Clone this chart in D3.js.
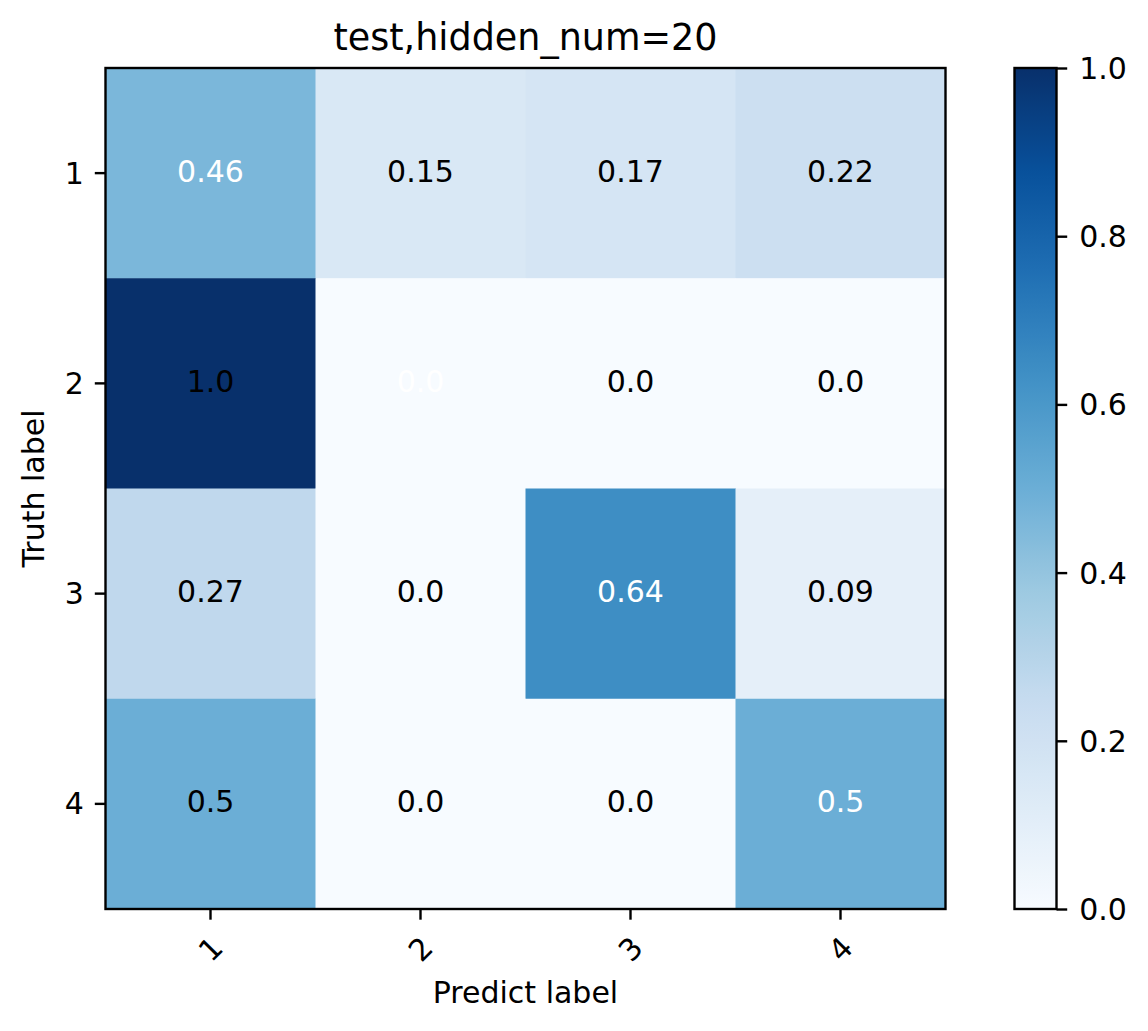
<!DOCTYPE html>
<html>
<head>
<meta charset="utf-8">
<script src="https://cdn.jsdelivr.net/npm/d3@7"></script>
<style>
  body { margin: 0; background: #fff; }
  svg { display: block; font-family: "DejaVu Sans", sans-serif; }
</style>
</head>
<body>
<div id="chart"></div>
<script>
// Confusion matrix data (rows = truth label, columns = predicted label)
const labels = ["1", "2", "3", "4"];
const matrix = [
  [0.46, 0.15, 0.17, 0.22],
  [1.0, 0.0, 0.0, 0.0],
  [0.27, 0.0, 0.64, 0.09],
  [0.5, 0.0, 0.0, 0.5]
];
const colorbarTicks = [0.0, 0.2, 0.4, 0.6, 0.8, 1.0];
const title = "test,hidden_num=20";

// matplotlib "Blues" colormap anchors
const bluesAnchors = ["#f7fbff", "#deebf7", "#c6dbef", "#9ecae1", "#6baed6",
                      "#4292c6", "#2171b5", "#08519c", "#08306b"];

const width = 1148, height = 1031;
const margin = { top: 68, left: 105.5 };
const plotW = 840, plotH = 841;
const lw = 2.4;       // axes line width
const tickLen = 10.7;
const fontSize = 30;

const color = d3.scaleLinear()
    .domain(d3.range(bluesAnchors.length).map(i => i / (bluesAnchors.length - 1)))
    .range(bluesAnchors)
    .interpolate(d3.interpolateRgb)
    .clamp(true);

function fmt(v) {
    // mimic python str() of rounded float
    return Number.isInteger(Math.round(v * 100) / 10) ? v.toFixed(1) : v.toFixed(2);
}

const svg = d3.select("#chart").append("svg")
    .attr("width", width)
    .attr("height", height);

const g = svg.append("g")
    .attr("transform", "translate(" + margin.left + "," + margin.top + ")");

const x = d3.scaleBand().domain(labels).range([0, plotW]);
const y = d3.scaleBand().domain(labels).range([0, plotH]);

// Cells
const cells = matrix.flatMap((row, i) => row.map((v, j) => ({ row: labels[i], col: labels[j], i: i, j: j, v: v })));

g.selectAll("rect.cell")
    .data(cells)
    .join("rect")
    .attr("class", "cell")
    .attr("x", d => x(d.col))
    .attr("y", d => y(d.row))
    .attr("width", x.bandwidth() + 0.5)
    .attr("height", y.bandwidth() + 0.5)
    .attr("fill", d => color(d.v));

// matplotlib va="center" centres the whole bbox, so digits sit a bit high
g.selectAll("text.cell-label")
    .data(cells)
    .join("text")
    .attr("class", "cell-label")
    .attr("x", d => x(d.col) + x.bandwidth() / 2)
    .attr("y", d => y(d.row) + y.bandwidth() / 2 + 8.5)
    .attr("text-anchor", "middle")
    .attr("font-size", fontSize)
    .attr("fill", d => d.i === d.j ? "#ffffff" : "#000000")  // diagonal in white
    .text(d => fmt(d.v));

// Frame
g.append("rect")
    .attr("width", plotW)
    .attr("height", plotH)
    .attr("fill", "none")
    .attr("stroke", "#000")
    .attr("stroke-width", lw);

// X axis
const xAxis = g.append("g")
    .attr("transform", "translate(0," + plotH + ")")
    .call(d3.axisBottom(x).tickSize(tickLen).tickSizeOuter(0).tickPadding(0));
xAxis.select(".domain").remove();
xAxis.selectAll(".tick line").attr("stroke-width", lw);
xAxis.selectAll(".tick text")
    .attr("font-size", fontSize)
    .attr("font-family", "DejaVu Sans, sans-serif")
    .attr("fill", "#000")
    .attr("y", 0)
    .attr("dy", null)
    .attr("dominant-baseline", "central")
    .attr("transform", "translate(0,40) rotate(-45)");

// Y axis
const yAxis = g.append("g")
    .call(d3.axisLeft(y).tickSize(tickLen).tickSizeOuter(0).tickPadding(11));
yAxis.select(".domain").remove();
yAxis.selectAll(".tick line").attr("stroke-width", lw);
yAxis.selectAll(".tick text")
    .attr("font-size", fontSize)
    .attr("font-family", "DejaVu Sans, sans-serif")
    .attr("fill", "#000")
    .attr("dy", null)
    .attr("dominant-baseline", "central");

// Axis labels
svg.append("text")
    .attr("x", margin.left + plotW / 2)
    .attr("y", 1003)
    .attr("text-anchor", "middle")
    .attr("font-size", fontSize)
    .text("Predict label");

svg.append("text")
    .attr("transform", "translate(44," + (margin.top + plotH / 2) + ") rotate(-90)")
    .attr("text-anchor", "middle")
    .attr("font-size", fontSize)
    .text("Truth label");

// Title
svg.append("text")
    .attr("x", margin.left + plotW / 2)
    .attr("y", 50)
    .attr("text-anchor", "middle")
    .attr("font-size", 36.5)
    .text(title);

// Colorbar
const cbX = 1014.5, cbW = 42;
const cbScale = d3.scaleLinear().domain([0, 1]).range([margin.top + plotH, margin.top]);

const grad = svg.append("defs").append("linearGradient")
    .attr("id", "cbgrad")
    .attr("x1", 0).attr("y1", 1).attr("x2", 0).attr("y2", 0);
grad.selectAll("stop")
    .data(d3.range(0, 1.0001, 0.02))
    .join("stop")
    .attr("offset", d => d)
    .attr("stop-color", d => color(d));

svg.append("rect")
    .attr("x", cbX)
    .attr("y", cbScale(1))
    .attr("width", cbW)
    .attr("height", cbScale(0) - cbScale(1))
    .attr("fill", "url(#cbgrad)")
    .attr("stroke", "#000")
    .attr("stroke-width", lw);

const cbAxis = svg.append("g")
    .attr("transform", "translate(" + (cbX + cbW) + ",0)")
    .call(d3.axisRight(cbScale).tickValues(colorbarTicks).tickFormat(d3.format(".1f"))
        .tickSize(tickLen).tickSizeOuter(0).tickPadding(12));
cbAxis.select(".domain").remove();
cbAxis.selectAll(".tick line").attr("stroke-width", lw);
cbAxis.selectAll(".tick text")
    .attr("font-size", fontSize)
    .attr("font-family", "DejaVu Sans, sans-serif")
    .attr("fill", "#000")
    .attr("dy", null)
    .attr("dominant-baseline", "central");
</script>
</body>
</html>
